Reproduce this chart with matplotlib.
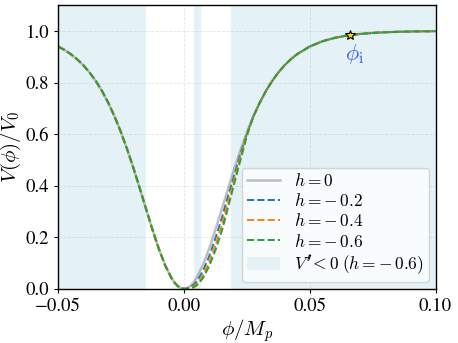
import matplotlib
matplotlib.use('Agg')
import matplotlib.pyplot as plt
import numpy as np

plt.rcParams['font.family'] = 'STIXGeneral'
plt.rcParams['mathtext.fontset'] = 'cm'

# potential, h = 0 (symmetric well)
phi_left = [-0.05, -0.0475, -0.045, -0.0425, -0.04, -0.0375, -0.035, -0.0325, -0.03,
            -0.0275, -0.025, -0.0225, -0.02, -0.0175, -0.015, -0.0125, -0.01,
            -0.0075, -0.005, -0.00375, -0.0025, -0.00125]
v_left = [0.9395, 0.9265, 0.9101, 0.8905, 0.8670, 0.8387, 0.8052, 0.7658, 0.7196,
          0.6665, 0.6061, 0.5389, 0.4655, 0.3876, 0.3076, 0.2288, 0.1553,
          0.0916, 0.0422, 0.0240, 0.0108, 0.0027]

# right side near the minimum, where the h curves split
phi_core = [0.0, 0.00125, 0.0025, 0.00375, 0.005, 0.0075, 0.01, 0.0125, 0.015,
            0.0175, 0.02, 0.0225, 0.025]
v_h0 = [0.0, 0.0027, 0.0108, 0.0240, 0.0422, 0.0916, 0.1553, 0.2288, 0.3076,
        0.3876, 0.4655, 0.5389, 0.6061]
v_h02 = [0.0, 0.0014, 0.0062, 0.0150, 0.0273, 0.0679, 0.1260, 0.1955, 0.2724,
         0.3592, 0.4409, 0.5249, 0.6014]
v_h04 = [0.0, 0.0008, 0.0039, 0.0095, 0.0176, 0.0507, 0.1034, 0.1694, 0.2443,
         0.3364, 0.4251, 0.5131, 0.5985]
v_h06 = [0.0, 0.0004, 0.0017, 0.0053, 0.0126, 0.0405, 0.0870, 0.1496, 0.2226,
         0.3138, 0.4094, 0.5011, 0.5929]

# plateau side, all curves the same
phi_right = [0.0275, 0.03, 0.0325, 0.035, 0.0375, 0.04, 0.0425, 0.045, 0.05, 0.055,
             0.06, 0.065, 0.07, 0.075, 0.08, 0.085, 0.09, 0.095, 0.10]
v_right = [0.6665, 0.7196, 0.7658, 0.8052, 0.8387, 0.8670, 0.8905, 0.9101, 0.9395,
           0.9599, 0.9734, 0.9824, 0.9884, 0.9923, 0.9949, 0.9966, 0.9978, 0.9985,
           0.9990]

# regions with V'' < 0 for h = -0.6
neg_regions = [(-0.05, -0.0151), (0.0038, 0.0067), (0.0186, 0.10)]

phi_i = 0.066
v_i = 0.984

labels = [r'$h=0$', r'$h=-\,0.2$', r'$h=-\,0.4$', r'$h=-\,0.6$']
colors = ['gray', '#1f77b4', '#ff7f0e', '#2ca02c']

phi = np.array(phi_left + phi_core + phi_right)

fig = plt.figure(figsize=(4.58, 3.43), dpi=100)
ax = fig.add_axes([0.127, 0.158, 0.824, 0.827])

for i, (a, b) in enumerate(neg_regions):
    ax.axvspan(a, b, color='#e4f1f6', lw=0,
               label=r"$V^{\prime\!\prime}\!<0\;(h=-\,0.6)$" if i == 0 else None,
               zorder=0)

for vals, lab, c in zip([v_h0, v_h02, v_h04, v_h06], labels, colors):
    v = np.array(v_left + vals + v_right)
    if lab == '$h=0$':
        ax.plot(phi, v, color=c, alpha=0.5, lw=1.8, label=lab)
    else:
        ax.plot(phi, v, color=c, ls='--', lw=1.4, label=lab)

ax.plot(phi_i, v_i, marker='*', ms=7, mfc='gold', mec='black', mew=0.8, zorder=5)
ax.text(phi_i + 0.0018, 0.912, r'$\phi_{\rm i}$', color='#2f5cff', fontsize=16,
        ha='center', va='center')

ax.set_xlim(-0.05, 0.10)
ax.set_ylim(0, 1.1)
ax.set_xticks([-0.05, 0.0, 0.05, 0.10])
ax.set_yticks([0.0, 0.2, 0.4, 0.6, 0.8, 1.0])
ax.tick_params(labelsize=13.5, length=3)
ax.grid(True, ls='--', color='gray', alpha=0.2, lw=0.6)
ax.set_xlabel(r'$\phi/M_p$', fontsize=15, labelpad=2)
ax.set_ylabel(r'$V(\phi)/V_0$', fontsize=15, labelpad=2)
for s in ax.spines.values():
    s.set_linewidth(1.0)

handles, labs = ax.get_legend_handles_labels()
order = [1, 2, 3, 4, 0]
ax.legend([handles[k] for k in order], [labs[k] for k in order], loc='lower right',
          fontsize=12.5, framealpha=0.8, borderpad=0.3, labelspacing=0.18,
          handlelength=1.9, handletextpad=0.8, borderaxespad=0.4)

fig.savefig('out.png', dpi=100)
